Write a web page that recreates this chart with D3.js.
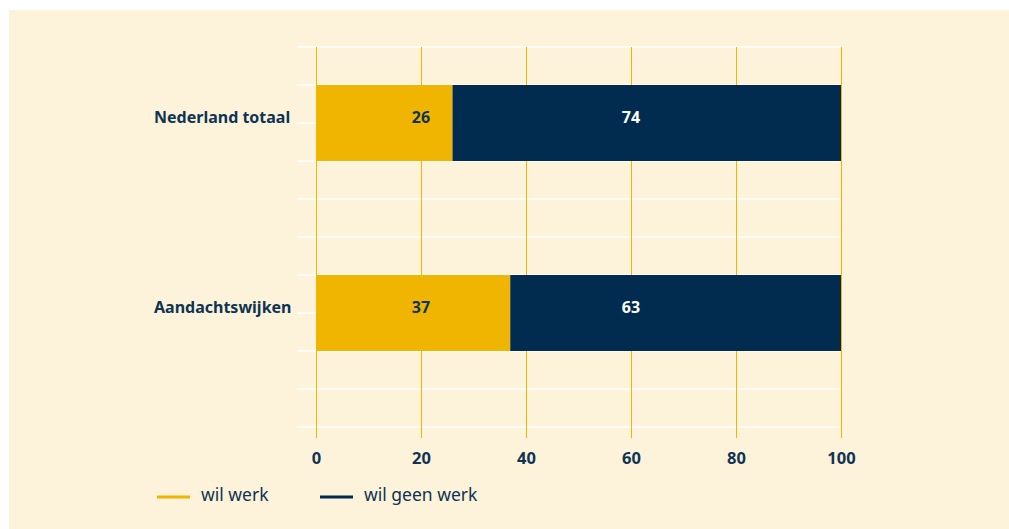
<!DOCTYPE html>
<html>
<head>
<meta charset="utf-8">
<script src="https://cdn.jsdelivr.net/npm/d3@7"></script>
<style>
  html, body { margin: 0; padding: 0; background: #fff; }
  svg { display: block; font-family: "Noto Sans", sans-serif; }
</style>
</head>
<body>
<svg id="svg1" width="1009" height="529"></svg>
<script>
// data
var categories = ["Nederland totaal", "Aandachtswijken"];
var wilWerk = [26, 37];
var wilGeenWerk = [74, 63];
var seriesNames = ["wil werk", "wil geen werk"];
var xTicks = [0, 20, 40, 60, 80, 100];
var labelPos = [20, 60]; // where the value labels sit on the x axis

var colors = ["#f0b500", "#012c4f"];
var bg = "#fdf3da";
var navy = "#0f3354";

var svg = d3.select("#svg1");

svg.append("rect")
    .attr("x", 9).attr("y", 10)
    .attr("width", 1000).attr("height", 519)
    .attr("fill", bg);

var x = d3.scaleLinear().domain([0, 100]).range([316, 841]);
var y = d3.scaleBand().domain(categories).range([47, 389])
    .paddingInner(0.6).paddingOuter(0.2);
var grid = d3.scaleLinear().domain([0, 10]).range([47, 427]);

// white horizontal grid
svg.append("g").selectAll("line")
    .data(d3.range(0, 11))
    .join("line")
    .attr("x1", 297).attr("x2", 840)
    .attr("y1", d => grid(d)).attr("y2", d => grid(d))
    .attr("stroke", "#ffffff")
    .attr("stroke-width", 1.5);

// vertical grid
svg.append("g").selectAll("line")
    .data(xTicks)
    .join("line")
    .attr("x1", d => x(d) + 0.5).attr("x2", d => x(d) + 0.5)
    .attr("y1", 47).attr("y2", 438)
    .attr("stroke", "#f2b600")
    .attr("stroke-width", 1);

// stacked bars
var rows = categories.map((c, i) => ({cat: c, vals: [wilWerk[i], wilGeenWerk[i]]}));
rows.forEach(function(r){
    var start = 0;
    r.vals.forEach(function(v, j){
        svg.append("rect")
            .attr("x", x(start))
            .attr("y", y(r.cat))
            .attr("width", x(start + v) - x(start))
            .attr("height", y.bandwidth())
            .attr("fill", colors[j]);
        svg.append("text")
            .attr("x", x(labelPos[j]))
            .attr("y", y(r.cat) + y.bandwidth()/2 - 6)
            .attr("dy", "0.35em")
            .attr("text-anchor", "middle")
            .attr("font-size", 16)
            .attr("font-weight", "bold")
            .attr("fill", j == 0 ? navy : "#ffffff")
            .text(v);
        start += v;
    });
    svg.append("text")
        .attr("x", 154)
        .attr("y", y(r.cat) + y.bandwidth()/2 - 6)
        .attr("dy", "0.35em")
        .attr("font-size", 16)
        .attr("font-weight", "bold")
        .attr("fill", navy)
        .text(r.cat);
});

// x axis labels
var xAxis = d3.axisBottom(x).tickValues(xTicks).tickSize(0).tickPadding(0);
var gx = svg.append("g").attr("transform", "translate(0,452)").call(xAxis);
gx.select(".domain").remove();
gx.selectAll("text")
    .attr("font-family", "Noto Sans, sans-serif")
    .attr("font-size", 16.5)
    .attr("font-weight", "bold")
    .attr("fill", navy);

// legend
var legX = [157, 320];
seriesNames.forEach(function(s, i){
    svg.append("line")
        .attr("x1", legX[i]).attr("x2", legX[i] + 33)
        .attr("y1", 497).attr("y2", 497)
        .attr("stroke", colors[i])
        .attr("stroke-width", 3);
    svg.append("text")
        .attr("x", legX[i] + 44)
        .attr("y", 495)
        .attr("dy", "0.35em")
        .attr("font-size", 17.5)
        .attr("fill", navy)
        .text(s);
});
</script>
</body>
</html>
